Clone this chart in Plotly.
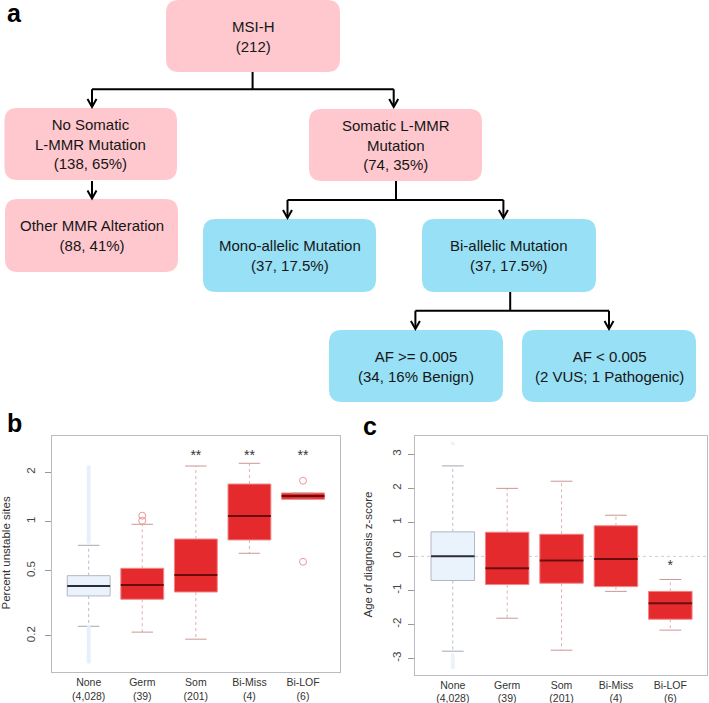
import plotly.graph_objects as go

# ---------------- data ----------------
groups = ["None", "Germ", "Som", "Bi-Miss", "Bi-LOF"]
group_n = ["4,028", "39", "201", "4", "6"]

# panel b: percent unstable sites (log scale)
b_q1 = [0.351, 0.335, 0.371, 0.772, 1.368]
b_median = [0.404, 0.410, 0.471, 1.081, 1.433]
b_q3 = [0.467, 0.518, 0.782, 1.696, 1.495]
b_low = [0.229, 0.211, 0.191, 0.640, 1.368]
b_high = [0.716, 0.962, 2.186, 2.271, 1.495]
b_sig = ["", "", "**", "**", "**"]
b_outliers_none = [0.75, 0.77, 0.79, 0.81, 0.83, 0.85, 0.87, 0.90, 0.92, 0.94, 0.97,
                   1.00, 1.03, 1.06, 1.09, 1.12, 1.15, 1.19, 1.23, 1.27, 1.31, 1.35,
                   1.40, 1.45, 1.50, 1.55, 1.60, 1.66, 1.72, 1.78, 1.85, 1.92, 2.00,
                   2.08, 2.15,
                   0.225, 0.219, 0.213, 0.207, 0.201, 0.196, 0.191, 0.186, 0.181,
                   0.176, 0.171, 0.166, 0.162, 0.158, 0.154, 0.150, 0.146, 0.142, 0.139]
b_outliers_germ = [1.012, 1.086]
b_outliers_bilof = [0.568, 1.777]

# panel c: age of diagnosis z-score
c_q1 = [-0.71, -0.83, -0.79, -0.89, -1.85]
c_median = [0.00, -0.35, -0.12, -0.08, -1.38]
c_q3 = [0.72, 0.71, 0.65, 0.90, -1.03]
c_low = [-2.79, -1.82, -2.76, -1.03, -2.17]
c_high = [2.66, 2.00, 2.21, 1.21, -0.68]
c_sig = ["", "", "", "", "*"]
c_outliers_none = [-2.90, -2.96, -3.02, -3.08, -3.14, -3.20, -3.26, 3.32]

# panel a: flowchart labels
node_labels = [
    "MSI-H<br>(212)",
    "No Somatic<br>L-MMR Mutation<br>(138, 65%)",
    "Somatic L-MMR<br>Mutation<br>(74, 35%)",
    "Other MMR Alteration<br>(88, 41%)",
    "Mono-allelic Mutation<br>(37, 17.5%)",
    "Bi-allelic Mutation<br>(37, 17.5%)",
    "AF &gt;= 0.005<br>(34, 16% Benign)",
    "AF &lt; 0.005<br>(2 VUS; 1 Pathogenic)",
]

# ---------------- styles / layout ----------------
W, H = 709, 703
FONT = "Liberation Sans, Arial, Helvetica, sans-serif"
PINK = "#FFC8CE"
BLUE = "#97E0F5"
RED = "#E52A2E"
NONE_FILL = "#EAF3FC"
box_fill = [NONE_FILL, RED, RED, RED, RED]
box_line = ["rgb(178,184,194)", "rgb(240,135,135)", "rgb(240,135,135)",
            "rgb(240,135,135)", "rgb(240,135,135)"]
med_color = ["rgb(45,45,55)", "rgb(105,12,12)", "rgb(105,12,12)",
             "rgb(105,12,12)", "rgb(105,12,12)"]
whisk_color = ["rgb(185,188,198)", "rgb(222,175,175)", "rgb(222,175,175)",
               "rgb(222,175,175)", "rgb(222,175,175)"]
cap_color = ["rgb(165,168,178)", "rgb(205,150,150)", "rgb(205,150,150)",
             "rgb(205,150,150)", "rgb(205,150,150)"]
BOX_W = 0.8
CAP_W = 0.4

# node geometry for flowchart (pixel-like coords, y downward)
node_geom = [
    (166, 0, 340, 72, PINK),
    (4.5, 108, 177, 180, PINK),
    (309, 109, 482, 181, PINK),
    (5, 199, 178, 272, PINK),
    (203, 219, 376, 292, BLUE),
    (422, 219, 596, 292, BLUE),
    (329, 330, 503, 402, BLUE),
    (522, 330, 696, 402, BLUE),
]

fig = go.Figure()


def rrect(x0, y0, x1, y1, r=13):
    return (f"M{x0+r},{y0} L{x1-r},{y0} Q{x1},{y0} {x1},{y0+r} "
            f"L{x1},{y1-r} Q{x1},{y1} {x1-r},{y1} L{x0+r},{y1} "
            f"Q{x0},{y1} {x0},{y1-r} L{x0},{y0+r} Q{x0},{y0} {x0+r},{y0} Z")


shapes = []
annotations = []

# dummy trace to anchor panel-a axes
fig.add_trace(go.Scatter(x=[0], y=[0], xaxis="x3", yaxis="y3", mode="markers",
                         marker=dict(opacity=0), showlegend=False, hoverinfo="skip"))

for (x0, y0, x1, y1, col), lab in zip(node_geom, node_labels):
    shapes.append(dict(type="path", path=rrect(x0, y0, x1, y1), xref="x3", yref="y3",
                       fillcolor=col, line=dict(width=0), layer="below"))
    annotations.append(dict(x=(x0 + x1) / 2, y=(y0 + y1) / 2, xref="x3", yref="y3",
                            xanchor="center", yanchor="middle",
                            text=lab, showarrow=False,
                            font=dict(family=FONT, size=15, color="#161616")))

connectors = [
    "M252.6,72 L252.6,89.3 M92,89.3 L393.7,89.3 M92,89.3 L92,106 M393.7,89.3 L393.7,106",
    "M92,181 L92,198",
    "M396,181 L396,200 M287.5,200 L503.4,200 M287.5,200 L287.5,217 M503.4,200 L503.4,217",
    "M510.2,292 L510.2,310.7 M415.4,310.7 L609,310.7 M415.4,310.7 L415.4,328 M609,310.7 L609,328",
]
for p in connectors:
    shapes.append(dict(type="path", path=p, xref="x3", yref="y3",
                       line=dict(color="black", width=2)))
for (ax, tip) in [(92, 107), (393.7, 107), (92, 198.5), (287.5, 218), (503.4, 218),
                  (415.4, 329), (609, 329)]:
    shapes.append(dict(type="path", path=f"M{ax-4.5},{tip-8} L{ax},{tip} L{ax+4.5},{tip-8}",
                       xref="x3", yref="y3", line=dict(color="black", width=2)))


def add_boxplot(xa, ya, q1, med, q3, lo, hi, outliers, out_style):
    for i in range(len(groups)):
        xi = i + 1
        fig.add_trace(go.Scatter(x=[xi, xi, None, xi, xi], y=[q3[i], hi[i], None, q1[i], lo[i]],
                                 mode="lines", line=dict(color=whisk_color[i], width=1, dash="dot"),
                                 xaxis=xa, yaxis=ya, showlegend=False, hoverinfo="skip"))
        fig.add_trace(go.Scatter(x=[xi - CAP_W / 2, xi + CAP_W / 2, None, xi - CAP_W / 2, xi + CAP_W / 2],
                                 y=[hi[i], hi[i], None, lo[i], lo[i]],
                                 mode="lines", line=dict(color=cap_color[i], width=1),
                                 xaxis=xa, yaxis=ya, showlegend=False, hoverinfo="skip"))
    for gi, vals in outliers.items():
        fig.add_trace(go.Scatter(x=[gi + 1] * len(vals), y=vals, mode="markers",
                                 marker=out_style[gi],
                                 xaxis=xa, yaxis=ya, showlegend=False, hoverinfo="skip"))
    for i in range(len(groups)):
        xi = i + 1
        fig.add_trace(go.Box(x=[xi], q1=[q1[i]], median=[med[i]], q3=[q3[i]],
                             lowerfence=[q1[i]], upperfence=[q3[i]], width=BOX_W,
                             whiskerwidth=0, fillcolor=box_fill[i],
                             line=dict(color=box_line[i], width=1), boxpoints=False,
                             xaxis=xa, yaxis=ya, showlegend=False, hoverinfo="skip"))
        fig.add_trace(go.Scatter(x=[xi - BOX_W / 2, xi + BOX_W / 2], y=[med[i], med[i]],
                                 mode="lines", line=dict(color=med_color[i], width=2),
                                 xaxis=xa, yaxis=ya, showlegend=False, hoverinfo="skip"))


NONE_OUT = dict(symbol="circle", size=4, color="rgb(230,240,252)",
                line=dict(width=0))
RED_OUT = dict(symbol="circle-open", size=7, color="rgb(238,150,150)", line=dict(width=1))
add_boxplot("x", "y", b_q1, b_median, b_q3, b_low, b_high,
            {0: b_outliers_none, 1: b_outliers_germ, 4: b_outliers_bilof},
            {0: NONE_OUT, 1: RED_OUT, 4: RED_OUT})
add_boxplot("x2", "y2", c_q1, c_median, c_q3, c_low, c_high,
            {0: c_outliers_none}, {0: dict(NONE_OUT, color="rgb(234,242,252)")})

# significance marks
SIG_B_Y = 2.5
sx = [i + 1 for i, s in enumerate(b_sig) if s]
fig.add_trace(go.Scatter(x=sx, y=[SIG_B_Y] * len(sx), text=[s for s in b_sig if s],
                         mode="text", textfont=dict(family=FONT, size=14, color="#333"),
                         xaxis="x", yaxis="y", showlegend=False, hoverinfo="skip"))
SIG_C_OFFSET = 0.37
cx = [i + 1 for i, s in enumerate(c_sig) if s]
fig.add_trace(go.Scatter(x=cx, y=[c_high[i - 1] + SIG_C_OFFSET for i in cx],
                         text=[s for s in c_sig if s],
                         mode="text", textfont=dict(family=FONT, size=14, color="#333"),
                         xaxis="x2", yaxis="y2", showlegend=False, hoverinfo="skip"))

# zero reference line in panel c
shapes.append(dict(type="line", xref="x2 domain", x0=0, x1=1, yref="y2", y0=0, y1=0,
                   line=dict(color="rgb(205,205,205)", width=1, dash="dot"), layer="below"))

ticktext = [f"{g}<br>({n})" for g, n in zip(groups, group_n)]
FRAME = "rgb(188,188,192)"
xcommon = dict(tickvals=[1, 2, 3, 4, 5], ticktext=ticktext, ticks="", showgrid=False,
               zeroline=False, showline=True, mirror=True, linecolor=FRAME, linewidth=1,
               tickfont=dict(family=FONT, size=10.5, color="#333"), automargin=False,
               fixedrange=True)
ycommon = dict(ticks="outside", ticklen=6, tickcolor="#999", tickwidth=1, tickangle=-90,
               showgrid=False, zeroline=False, showline=True, mirror=True,
               linecolor=FRAME, linewidth=1,
               tickfont=dict(family=FONT, size=11.5, color="#444"), automargin=False,
               fixedrange=True)

fig.update_layout(
    width=W, height=H, margin=dict(l=0, r=0, t=0, b=0),
    paper_bgcolor="white", plot_bgcolor="white", showlegend=False,
    xaxis=dict(domain=[51.7 / W, 340 / W], range=[0.31, 5.69], anchor="y", **xcommon),
    yaxis=dict(domain=[1 - 672.3 / H, 1 - 436 / H], type="log", range=[-0.9214, 0.5230],
               tickvals=[0.2, 0.5, 1, 2], ticktext=["0.2", "0.5", "1", "2"], anchor="x",
               ticklabelstandoff=5, **ycommon),
    xaxis2=dict(domain=[415 / W, 707.3 / W], range=[0.305, 5.68], anchor="y2", **xcommon),
    yaxis2=dict(domain=[1 - 675 / H, 1 - 436 / H], range=[-3.49, 3.54],
                tickvals=[-3, -2, -1, 0, 1, 2, 3],
                ticktext=["-3", "-2", "-1", "0", "1", "2", "3"], anchor="x2",
                ticklabelstandoff=2, **ycommon),
    xaxis3=dict(domain=[0, 1], range=[0, W], visible=False, anchor="y3", fixedrange=True),
    yaxis3=dict(domain=[1 - 410 / H, 1], range=[410, 0], visible=False, anchor="x3",
                fixedrange=True),
)

# panel letters and axis titles
for letter, px, py in [("a", 14.3, 12.7), ("b", 15, 423), ("c", 370, 426)]:
    annotations.append(dict(x=px / W, y=1 - py / H, xref="paper", yref="paper",
                            xanchor="center", yanchor="middle", text=f"<b>{letter}</b>",
                            showarrow=False, font=dict(family=FONT, size=25, color="black")))
for title, px, py in [("Percent unstable sites", 5.5, 553), ("Age of diagnosis z-score", 367.5, 555)]:
    annotations.append(dict(x=px / W, y=1 - py / H, xref="paper", yref="paper", text=title,
                            xanchor="center", yanchor="middle",
                            textangle=-90, showarrow=False,
                            font=dict(family=FONT, size=11.5, color="#333")))

fig.update_layout(shapes=shapes, annotations=annotations)
fig.write_html("out.html", config={"displayModeBar": False},
               post_script="document.body.style.margin='0px';document.body.style.overflow='hidden';")
